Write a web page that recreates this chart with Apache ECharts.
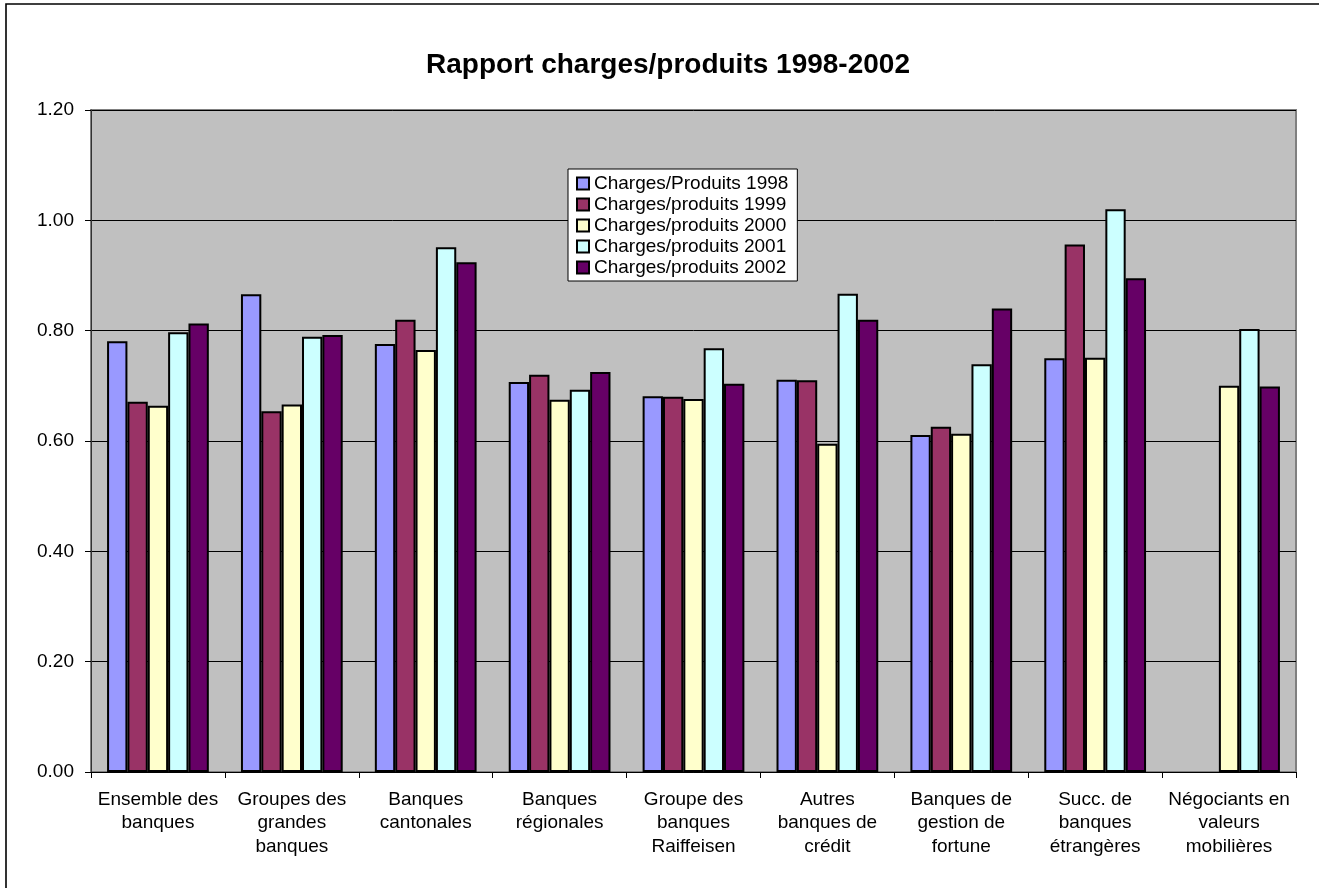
<!DOCTYPE html>
<html>
<head>
<meta charset="utf-8">
<script src="https://cdn.jsdelivr.net/npm/echarts@6/dist/echarts.min.js"></script>
<style>
html,body{margin:0;padding:0;background:#fff;}
#c{width:1319px;height:888px;}
</style>
</head>
<body>
<div id="c"></div>
<script>
const categories = [
  "Ensemble des\nbanques",
  "Groupes des\ngrandes\nbanques",
  "Banques\ncantonales",
  "Banques\nrégionales",
  "Groupe des\nbanques\nRaiffeisen",
  "Autres\nbanques de\ncrédit",
  "Banques de\ngestion de\nfortune",
  "Succ. de\nbanques\nétrangères",
  "Négociants en\nvaleurs\nmobilières"
];
const seriesNames = [
  "Charges/Produits 1998",
  "Charges/produits 1999",
  "Charges/produits 2000",
  "Charges/produits 2001",
  "Charges/produits 2002"
];
const v1998 = [0.781, 0.866, 0.776, 0.707, 0.681, 0.711, 0.611, 0.750, null];
const v1999 = [0.671, 0.654, 0.820, 0.720, 0.680, 0.710, 0.626, 0.956, null];
const v2000 = [0.664, 0.666, 0.765, 0.675, 0.676, 0.595, 0.613, 0.751, 0.700];
const v2001 = [0.797, 0.789, 0.951, 0.693, 0.768, 0.867, 0.739, 1.020, 0.803];
const v2002 = [0.813, 0.792, 0.924, 0.725, 0.704, 0.820, 0.840, 0.895, 0.699];
const yTicks = { min: 0, max: 1.2, interval: 0.2 };
const colors = ["#9999FF", "#993366", "#FFFFCC", "#CCFFFF", "#660066"];
const values = [v1998, v1999, v2000, v2001, v2002];

const FONT = "Arial, 'Liberation Sans', sans-serif";
const chart = echarts.init(document.getElementById('c'));
chart.setOption({
  animation: false,
  backgroundColor: '#ffffff',
  graphic: [
    { type: 'rect', shape: { x: 6, y: 4, width: 1400, height: 1000 },
      style: { fill: 'none', stroke: '#000', lineWidth: 1.6 }, silent: true },
    { type: 'text', style: { x: 668, y: 65, text: 'Rapport charges/produits 1998-2002',
      font: 'bold 28px ' + FONT, fill: '#000', textAlign: 'center', textVerticalAlign: 'middle' } }
  ],
  legend: {
    orient: 'vertical',
    left: 568, top: 169,
    backgroundColor: '#fff',
    borderColor: '#000', borderWidth: 1,
    padding: [4, 9, 3, 8],
    itemWidth: 12, itemHeight: 12, itemGap: 0,
    icon: 'rect',
    textStyle: { fontFamily: FONT, fontSize: 19, color: '#000', lineHeight: 21, padding: [0,0,0,0] },
    data: seriesNames
  },
  grid: {
    left: 91, right: 23, top: 110, bottom: 116,
    show: true, backgroundColor: '#C0C0C0', borderColor: '#808080', borderWidth: 2
  },
  xAxis: {
    type: 'category',
    data: categories,
    axisLine: { lineStyle: { color: '#000', width: 1 } },
    axisTick: { show: true, length: 6, lineStyle: { color: '#000' } },
    axisLabel: { fontFamily: FONT, fontSize: 19, color: '#000', lineHeight: 23.5, margin: 16, interval: 0 }
  },
  yAxis: {
    type: 'value',
    min: yTicks.min, max: yTicks.max, interval: yTicks.interval,
    axisLine: { show: true, lineStyle: { color: '#333', width: 1 } },
    axisTick: { show: true, length: 6, lineStyle: { color: '#000' } },
    axisLabel: { fontFamily: FONT, fontSize: 19, color: '#000', margin: 17,
      formatter: v => v.toFixed(2) },
    splitLine: { show: true, lineStyle: { color: '#000', width: 1 } }
  },
  series: seriesNames.map((n, i) => ({
    name: n, type: 'bar', data: values[i],
    barGap: '0%', barCategoryGap: '24%',
    itemStyle: { color: colors[i], borderColor: '#000', borderWidth: 2 }
  }))
});
</script>
</body>
</html>
